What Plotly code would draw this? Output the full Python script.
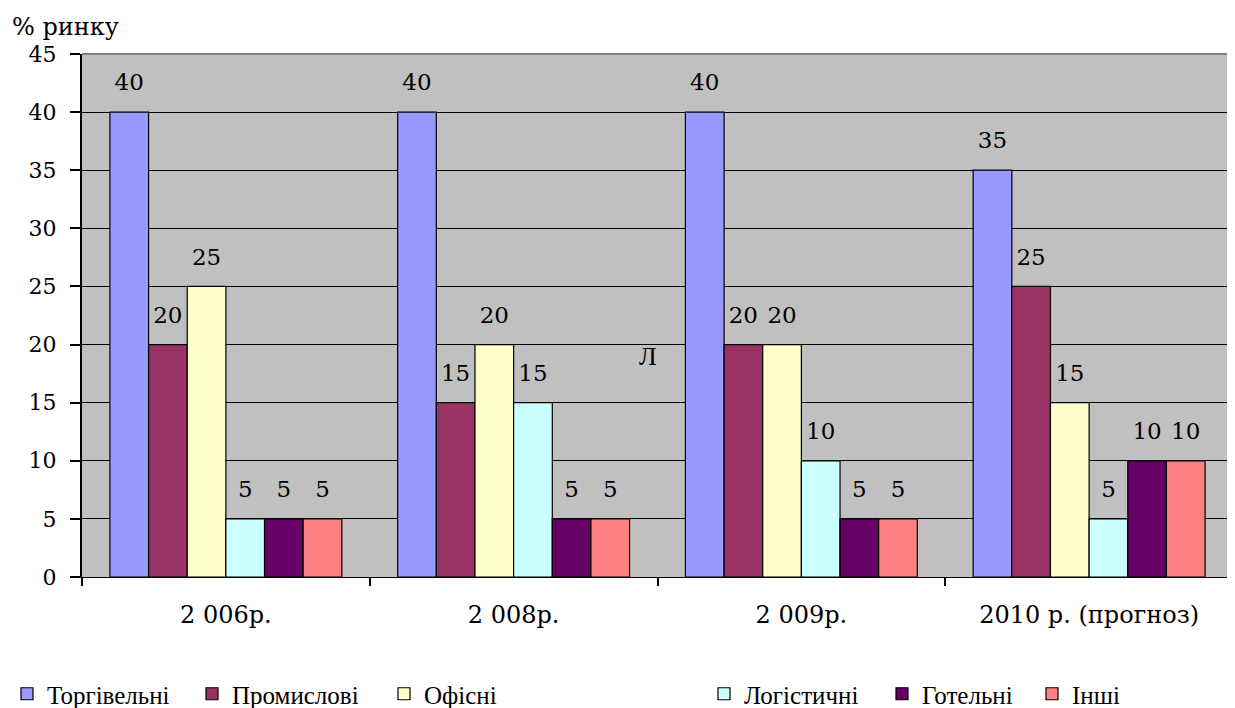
import plotly.graph_objects as go

categories = ["2 006р.", "2 008р.", "2 009р.", "2010 р. (прогноз)"]
series_names = ["Торгівельні", "Промислові", "Офісні", "Логістичні", "Готельні", "Інші"]
torgivelni = [40, 40, 40, 35]
promyslovi = [20, 15, 20, 25]
ofisni = [25, 20, 20, 15]
logistychni = [5, 15, 10, 5]
hotelni = [5, 5, 5, 10]
inshi = [5, 5, 5, 10]
series_values = [torgivelni, promyslovi, ofisni, logistychni, hotelni, inshi]
colors = ["#9999FF", "#993366", "#FFFFCC", "#CCFFFF", "#660066", "#FF8080"]
y_ticks = [0, 5, 10, 15, 20, 25, 30, 35, 40, 45]

# page body has an 8px margin: work in screen pixels, then subtract it
OFF = 8
W, H = 1235 - OFF, 708 - OFF
P_LEFT, P_RIGHT, P_TOP, P_BOTTOM = 82, 1233, 54, 577   # plot area on screen
ML = P_LEFT - OFF
MR = (W + OFF) - P_RIGHT
MT = P_TOP - OFF
MB = (H + OFF) - P_BOTTOM
PW = P_RIGHT - P_LEFT
PH = P_BOTTOM - P_TOP

# legend square centers on screen (px)
legend_px = [27, 212, 404, 724, 902, 1052]
LEGEND_Y = 694

SERIF_WIDE = "DejaVu Serif, serif"
SERIF = "Liberation Serif, Times New Roman, serif"

fig = go.Figure()
for i, (name, vals, col) in enumerate(zip(series_names, series_values, colors)):
    lg = "legend" if i == 0 else f"legend{i+1}"
    fig.add_trace(go.Bar(
        x=categories, y=vals, name=name,
        marker=dict(color=col, line=dict(color="black", width=1.2)),
        offsetgroup=str(i), alignmentgroup="a",
        legend=lg, hoverinfo="skip",
    ))
for i, vals in enumerate(series_values):
    fig.add_trace(go.Scatter(
        x=categories, y=vals, mode="markers+text",
        text=[str(v) for v in vals], textposition="top center",
        textfont=dict(family=SERIF_WIDE, size=23, color="black"),
        marker=dict(size=24, color="rgba(0,0,0,0)"),
        offsetgroup=str(i), alignmentgroup="a",
        showlegend=False, hoverinfo="skip", cliponaxis=False,
    ))

layout_legends = {}
for i, cx in enumerate(legend_px):
    key = "legend" if i == 0 else f"legend{i+1}"
    layout_legends[key] = dict(
        x=(cx - 20 - P_LEFT) / PW, xanchor="left",
        y=(P_BOTTOM - LEGEND_Y) / PH, yanchor="middle",
        orientation="h", bgcolor="rgba(0,0,0,0)", borderwidth=0,
        font=dict(family=SERIF, size=25, color="black"),
        itemclick=False, itemdoubleclick=False,
    )

fig.update_layout(
    width=W, height=H,
    margin=dict(l=ML, r=MR, t=MT, b=MB, pad=0, autoexpand=False),
    paper_bgcolor="white", plot_bgcolor="#C0C0C0",
    barmode="group", bargap=0.194, bargroupgap=0,
    scattermode="group", scattergap=0.194,
    font=dict(family=SERIF_WIDE, size=23, color="black"),
    showlegend=True,
    **layout_legends,
    xaxis=dict(
        type="category", showgrid=False, showline=True, linecolor="black", linewidth=1,
        ticks="outside", tickson="boundaries", ticklen=8, tickcolor="black", tickwidth=2,
        tickfont=dict(family=SERIF_WIDE, size=24, color="black"), ticklabelstandoff=16,
        zeroline=False, automargin=False,
    ),
    yaxis=dict(
        range=[0, 45], tickvals=y_ticks, showgrid=True, gridcolor="black", gridwidth=1,
        showline=True, linecolor="black", linewidth=2,
        ticks="outside", ticklen=10, tickcolor="black", tickwidth=2,
        tickfont=dict(family=SERIF_WIDE, size=22, color="black"), ticklabelstandoff=9,
        zeroline=False, automargin=False,
    ),
    shapes=[
        dict(type="line", xref="paper", yref="paper", x0=0, x1=1, y0=1, y1=1,
             line=dict(color="#808080", width=2), layer="above"),
        dict(type="line", xref="paper", yref="paper", x0=1, x1=1, y0=0, y1=1,
             line=dict(color="#808080", width=2), layer="above"),
    ],
    annotations=[
        dict(text="% ринку", xref="paper", yref="paper",
             x=(10 - P_LEFT) / PW, y=(P_BOTTOM - 27) / PH, xanchor="left", yanchor="middle",
             showarrow=False, font=dict(family=SERIF_WIDE, size=24, color="black")),
        dict(text="Л", xref="paper", yref="y", x=(648 - P_LEFT) / PW, y=19,
             xanchor="center", yanchor="middle", showarrow=False,
             font=dict(family=SERIF, size=26, color="black")),
    ],
)

fig.write_html("out.html")
